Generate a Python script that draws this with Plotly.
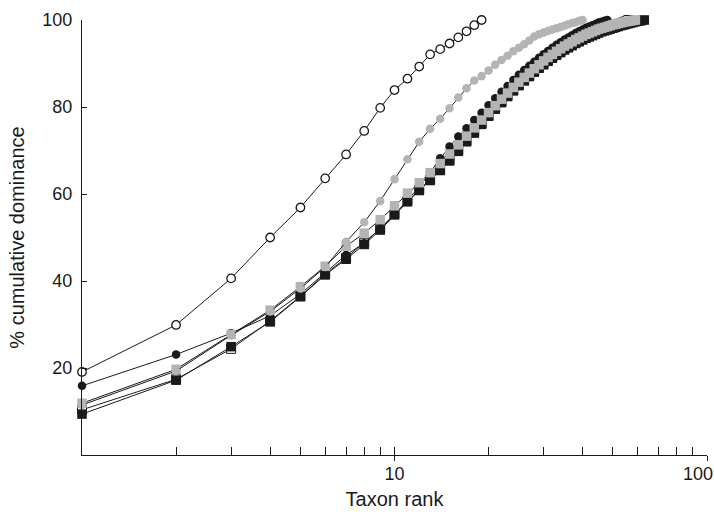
import plotly.graph_objects as go

# ---- data ----
open_circles = [19.1, 29.9, 40.6, 50.0, 56.9, 63.6, 69.1, 74.5, 79.8, 83.9,
                86.5, 89.3, 92.1, 93.3, 94.6, 96.0, 97.4, 98.8, 100.0]

gray_circles = [11.5, 19.3, 27.5, 33.0, 38.3, 43.2, 49.0, 53.5, 58.4, 63.4,
                68.0, 72.0, 75.0, 77.3, 79.7, 82.2, 84.3, 86.1, 87.1, 88.4,
                89.7, 90.8, 91.8, 92.8, 93.6, 94.4, 95.3, 96.2, 96.7, 97.1,
                97.5, 97.8, 98.1, 98.4, 98.7, 99.0, 99.3, 99.5, 99.8, 100.0]

black_circles = [15.9, 23.1, 28.0, 32.0, 37.0, 41.8, 46.0, 48.7, 52.1, 55.2,
                 58.6, 61.6, 65.0, 68.2, 70.9, 73.2, 75.1, 77.0, 78.7, 80.4,
                 82.0, 83.5, 84.8, 86.2, 87.4, 88.5, 89.5, 90.4, 91.3, 92.1,
                 92.9, 93.6, 94.3, 94.9, 95.5, 96.0, 96.5, 97.0, 97.4, 97.8,
                 98.2, 98.5, 98.8, 99.1, 99.4, 99.6, 99.8, 100.0]

gray_squares = [11.9, 19.7, 27.7, 33.3, 38.7, 43.4, 48.0, 51.0, 54.1, 57.3,
                60.2, 62.6, 64.9, 67.0, 69.2, 71.3, 73.3, 75.2, 77.0, 78.7,
                80.3, 81.8, 83.2, 84.5, 85.7, 86.8, 87.8, 88.8, 89.7, 90.6,
                91.4, 92.1, 92.8, 93.4, 94.0, 94.5, 95.0, 95.5, 95.9, 96.3,
                96.7, 97.0, 97.3, 97.6, 97.9, 98.1, 98.3, 98.5, 98.7, 98.9,
                99.05, 99.2, 99.35, 99.5, 99.6, 99.7, 99.8, 99.9, 100.0]

open_squares = [10.4, 17.4, 24.4, 30.8, 36.5, 41.6, 45.3, 48.8, 52.0, 55.4,
                58.4, 61.0, 63.3, 65.6, 67.8, 70.0, 72.2, 74.2, 76.2, 78.0,
                79.7, 81.2, 82.6, 83.9, 85.1, 86.2, 87.2, 88.2, 89.1, 90.0,
                90.8, 91.5, 92.2, 92.8, 93.4, 93.9, 94.4, 94.9, 95.3, 95.7,
                96.1, 96.5, 96.8, 97.1, 97.4, 97.7, 98.0, 98.3, 98.5, 98.7,
                98.9, 99.1, 99.3, 99.5, 99.7, 100.0]

black_squares = [9.4, 17.2, 24.9, 30.6, 36.4, 41.4, 45.0, 48.4, 51.7, 55.2,
                 58.2, 60.8, 63.1, 65.4, 67.6, 69.8, 72.0, 74.0, 76.0, 77.9,
                 79.5, 81.0, 82.4, 83.7, 84.9, 86.0, 87.0, 88.0, 88.9, 89.7,
                 90.5, 91.2, 91.9, 92.5, 93.1, 93.6, 94.1, 94.6, 95.0, 95.4,
                 95.8, 96.1, 96.4, 96.7, 97.0, 97.3, 97.5, 97.7, 97.9, 98.1,
                 98.3, 98.5, 98.7, 98.85, 99.0, 99.15, 99.3, 99.45, 99.6, 99.7,
                 99.8, 99.9, 100.0]

y_ticks = [20, 40, 60, 80, 100]
x_major = [10, 100]
x_minor = [2, 3, 4, 5, 6, 7, 8, 9, 20, 30, 40, 50, 60, 70, 80, 90]

BLACK = "#1a1a1a"
GRAY = "#b4b4b4"
FONT = "Liberation Sans, Arial, sans-serif"


def ranks(vals):
    return list(range(1, len(vals) + 1))


# (values, symbol, fill, outline colour, outline width, size), bottom to top
series = [
    (open_squares, "square", "white", BLACK, 1, 9),
    (black_squares, "square", BLACK, BLACK, 0, 9.5),
    (black_circles, "circle", BLACK, BLACK, 0, 8.5),
    (gray_squares, "square", GRAY, GRAY, 0, 9.5),
    (gray_circles, "circle", GRAY, GRAY, 0, 8.5),
    (open_circles, "circle", "white", BLACK, 1.3, 8.5),
]

fig = go.Figure()
for vals, sym, fill, lc, lw, sz in series:
    fig.add_trace(go.Scatter(
        x=ranks(vals), y=vals, mode="lines+markers",
        line=dict(color=BLACK, width=1),
        marker=dict(symbol=sym, size=sz, color=fill,
                    line=dict(color=lc, width=lw)),
        cliponaxis=False, showlegend=False, hoverinfo="skip",
    ))

# dummy traces on the overlay axes so they are drawn
for ax in ("x2", "x3", "x4"):
    fig.add_trace(go.Scatter(x=[1], y=[None], xaxis=ax, showlegend=False,
                             hoverinfo="skip"))

overlay = dict(type="log", range=[0, 2], overlaying="x", anchor="y",
               side="bottom", matches="x", showline=False, showgrid=False,
               zeroline=False, automargin=False)

fig.update_layout(
    width=714, height=512,
    margin=dict(l=82, r=7, t=20, b=57),
    paper_bgcolor="white", plot_bgcolor="white",
    font=dict(family=FONT, color=BLACK, size=18),
    xaxis=dict(
        type="log", range=[0, 2], automargin=False,
        showline=True, linecolor=BLACK, linewidth=1,
        showgrid=False, zeroline=False,
        tickmode="array", tickvals=x_major, ticktext=["10", ""],
        ticks="inside", ticklen=8, tickcolor=BLACK, tickwidth=1,
        minor=dict(tickmode="array", tickvals=x_minor, ticks="inside",
                   ticklen=8, tickcolor=BLACK, tickwidth=1, showgrid=False),
        # label kept invisible: it only places the axis title
        tickfont=dict(size=18, color="rgba(0,0,0,0)"), ticklabelstandoff=6,
        title=dict(text="Taxon rank", font=dict(size=20, color=BLACK),
                   standoff=4),
    ),
    # downward part of the major ticks
    xaxis2=dict(**overlay, tickmode="array", tickvals=x_major,
                ticks="outside", ticklen=5, tickcolor=BLACK, tickwidth=1,
                showticklabels=False),
    # the "100" label, nudged left so it stays inside the picture
    xaxis3=dict(**overlay, tickmode="array", tickvals=[100],
                ticktext=["100"], ticks="", tickfont=dict(size=18),
                ticklabelstandoff=6, ticklabelshift=-9,
                ticklabeloverflow="allow"),
    # the visible "10" label
    xaxis4=dict(**overlay, tickmode="array", tickvals=[10],
                ticktext=["10"], ticks="", tickfont=dict(size=18),
                ticklabelstandoff=6),
    yaxis=dict(
        range=[0, 100], automargin=False,
        showline=True, linecolor=BLACK, linewidth=1,
        showgrid=False, zeroline=False,
        tickmode="array", tickvals=y_ticks,
        ticks="inside", ticklen=5, tickcolor=BLACK, tickwidth=1,
        tickfont=dict(size=18), ticklabelstandoff=5,
        title=dict(text="% cumulative dominance", font=dict(size=20), standoff=12),
    ),
)

# remove the default 8px page margin so the 714x512 figure fills the window
fig.write_html(
    "out.html",
    config={"displayModeBar": False},
    post_script="document.body.style.margin='0';"
                "document.body.style.overflow='hidden';",
)
